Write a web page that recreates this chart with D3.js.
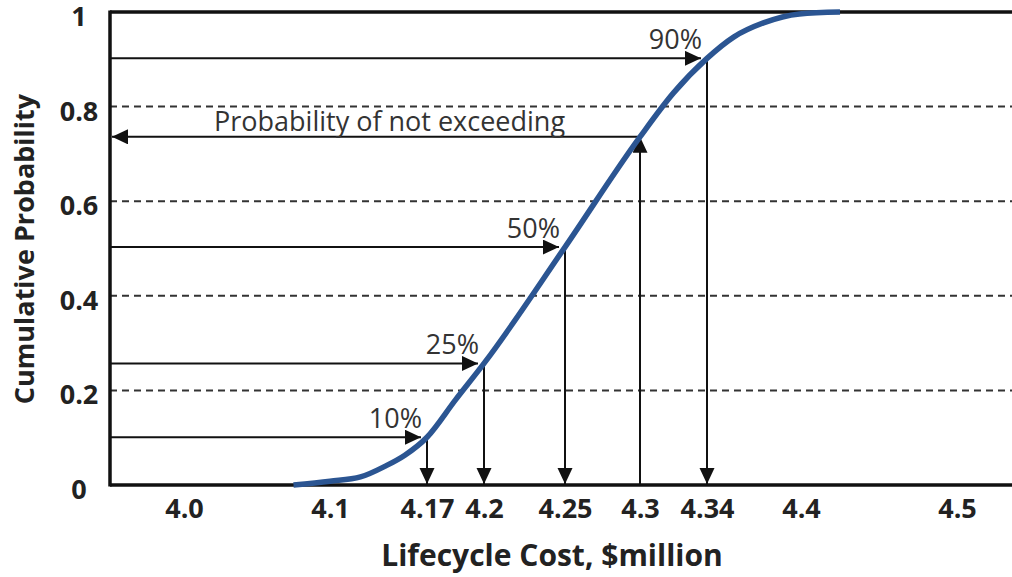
<!DOCTYPE html>
<html>
<head>
<meta charset="utf-8">
<script src="https://cdn.jsdelivr.net/npm/d3@7"></script>
<style>
  html, body { margin: 0; padding: 0; background: #fff; }
  svg { display: block; }
</style>
</head>
<body>
<svg id="chart" width="1012" height="577"></svg>
<script>
// ---------- data ----------
const costTicks = [4.0, 4.1, 4.17, 4.2, 4.25, 4.3, 4.34, 4.4, 4.5];
const costTickLabels = ["4.0", "4.1", "4.17", "4.2", "4.25", "4.3", "4.34", "4.4", "4.5"];
const probTicks = [0, 0.2, 0.4, 0.6, 0.8, 1];
const probTickLabels = ["0", "0.2", "0.4", "0.6", "0.8", "1"];
const gridProbs = [0.2, 0.4, 0.6, 0.8];

const curveCost = [4.075, 4.1, 4.122, 4.14, 4.154, 4.17, 4.185, 4.2, 4.25, 4.3, 4.32, 4.34, 4.357, 4.376, 4.399, 4.425];
const curveProb = [0.0, 0.008, 0.017, 0.040, 0.063, 0.101, 0.180, 0.257, 0.503, 0.736, 0.829, 0.902, 0.947, 0.977, 0.996, 1.0];

const markerLabels = ["10%", "25%", "50%", "90%"];
const markerCost = [4.17, 4.2, 4.25, 4.34];
const markerProb = [0.101, 0.257, 0.503, 0.902];

const notExceedLabel = "Probability of not exceeding";
const notExceedCost = 4.3;
const notExceedProb = 0.736;

const xTitle = "Lifecycle Cost, $million";
const yTitle = "Cumulative Probability";

// ---------- layout ----------
const W = 1012, H = 577;
const plot = { left: 110, right: 1012, top: 12, bottom: 485 };
// the original axis is hand-spaced, so the scale is piecewise linear through the tick stops
const xStops = [184, 330, 427, 484, 565, 640, 707, 801, 957];

const x = d3.scaleLinear().domain(costTicks).range(xStops);
const y = d3.scaleLinear().domain([0, 1]).range([plot.bottom, plot.top]);

const svg = d3.select("#chart");
const font = "'Open Sans', 'DejaVu Sans', sans-serif";

const defs = svg.append("defs");
defs.append("marker")
  .attr("id", "arrow")
  .attr("markerUnits", "userSpaceOnUse")
  .attr("markerWidth", 17).attr("markerHeight", 16)
  .attr("refX", 16).attr("refY", 7.5)
  .attr("orient", "auto")
  .append("path")
  .attr("d", "M0,0 L16,7.5 L0,15 Z")
  .attr("fill", "#111");

// dashed gridlines
svg.append("g").selectAll("line").data(gridProbs).join("line")
  .attr("x1", plot.left).attr("x2", plot.right)
  .attr("y1", d => y(d)).attr("y2", d => y(d))
  .attr("stroke", "#333").attr("stroke-width", 2)
  .attr("stroke-dasharray", "7,5");

// annotation arrows
const ann = svg.append("g").attr("stroke", "#111").attr("stroke-width", 2).attr("fill", "none");
markerCost.forEach((c, i) => {
  const px = x(c), py = y(markerProb[i]);
  ann.append("line")
    .attr("x1", plot.left).attr("x2", px - 6)
    .attr("y1", py).attr("y2", py)
    .attr("marker-end", "url(#arrow)");
  ann.append("line")
    .attr("x1", px).attr("x2", px)
    .attr("y1", py).attr("y2", plot.bottom - 1)
    .attr("marker-end", "url(#arrow)");
});
{
  const px = x(notExceedCost), py = y(notExceedProb);
  ann.append("line")
    .attr("x1", px).attr("x2", px)
    .attr("y1", plot.bottom).attr("y2", py)
    .attr("marker-end", "url(#arrow)");
  ann.append("line")
    .attr("x1", px).attr("x2", plot.left + 2)
    .attr("y1", py).attr("y2", py)
    .attr("marker-end", "url(#arrow)");
}

// frame
const frame = svg.append("g").attr("stroke", "#111").attr("stroke-width", 3.5);
frame.append("line").attr("x1", plot.left).attr("x2", plot.right).attr("y1", plot.top).attr("y2", plot.top);
frame.append("line").attr("x1", plot.left).attr("x2", plot.right).attr("y1", plot.bottom).attr("y2", plot.bottom);
frame.append("line").attr("x1", plot.left).attr("x2", plot.left).attr("y1", plot.top - 1.5).attr("y2", plot.bottom + 1.5);

// curve
const pts = curveCost.map((c, i) => [c, curveProb[i]]);
svg.append("path")
  .datum(pts)
  .attr("d", d3.line().x(d => x(d[0])).y(d => y(d[1])).curve(d3.curveMonotoneX))
  .attr("fill", "none")
  .attr("stroke", "#2b5592")
  .attr("stroke-width", 5.5)
  .attr("stroke-linecap", "butt");

// annotation labels
svg.append("g").selectAll("text").data(markerLabels).join("text")
  .attr("x", (d, i) => x(markerCost[i]) - 5)
  .attr("y", (d, i) => y(markerProb[i]) - 9)
  .attr("text-anchor", "end")
  .attr("font-family", font)
  .attr("font-size", 27)
  .attr("fill", "#333")
  .text(d => d);

svg.append("text")
  .attr("x", plot.left + 104)
  .attr("y", y(notExceedProb) - 6)
  .attr("font-family", font)
  .attr("font-size", 27)
  .attr("fill", "#333")
  .text(notExceedLabel);

// axes
const xAxis = d3.axisBottom(x)
  .tickValues(costTicks)
  .tickFormat((d, i) => costTickLabels[i])
  .tickSize(0).tickPadding(14);
const gx = svg.append("g").attr("transform", `translate(0,${plot.bottom})`).call(xAxis);
gx.select(".domain").remove();
gx.selectAll("text")
  .attr("font-family", font).attr("font-size", 27).attr("font-weight", "bold").attr("fill", "#222");

const yAxis = d3.axisLeft(y)
  .tickValues(probTicks)
  .tickFormat((d, i) => probTickLabels[i])
  .tickSize(0).tickPadding(31);
const gy = svg.append("g").attr("transform", `translate(${plot.left},0)`).call(yAxis);
gy.select(".domain").remove();
gy.selectAll("text")
  .attr("text-anchor", "middle")
  .attr("dy", "0.5em")
  .attr("font-family", font).attr("font-size", 27).attr("font-weight", "bold").attr("fill", "#222");

// axis titles
svg.append("text")
  .attr("x", 552).attr("y", 566)
  .attr("text-anchor", "middle")
  .attr("font-family", font).attr("font-size", 30).attr("font-weight", "bold").attr("fill", "#222")
  .text(xTitle);

svg.append("text")
  .attr("transform", "translate(34,249) rotate(-90)")
  .attr("text-anchor", "middle")
  .attr("font-family", font).attr("font-size", 27).attr("font-weight", "bold").attr("fill", "#222")
  .text(yTitle);
</script>
</body>
</html>
